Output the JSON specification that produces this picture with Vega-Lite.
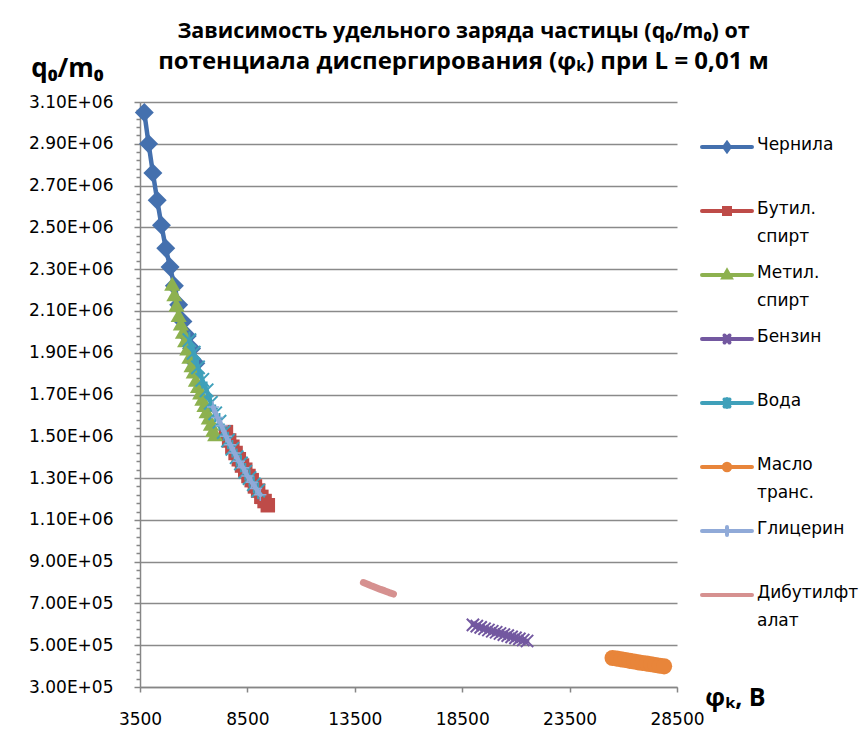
{
  "$schema": "https://vega.github.io/schema/vega-lite/v6.json",
  "width": 537,
  "height": 585,
  "autosize": {"type": "none"},
  "padding": {"left": 140, "top": 102, "right": 182, "bottom": 44},
  "background": "white",
  "config": {"view": {"stroke": null}},
  "title": {
    "text": "Зависимость удельного заряда частицы (q₀/m₀) от",
    "subtitle": "потенциала диспергирования (φₖ) при L = 0,01 м",
    "font": "Open Sans", "fontSize": 21.5, "fontWeight": "bold", "color": "#000000",
    "subtitleFont": "Open Sans", "subtitleFontSize": 24, "subtitleFontWeight": "bold", "subtitleColor": "#000000",
    "subtitlePadding": 8,
    "anchor": "middle", "frame": "group", "dx": 55, "dy": 47, "offset": 28
  },
  "data": {"values": [
    {"s": "Чернила", "x": 3700, "y": 3050000},
    {"s": "Чернила", "x": 3900, "y": 2900000},
    {"s": "Чернила", "x": 4100, "y": 2760000},
    {"s": "Чернила", "x": 4300, "y": 2630000},
    {"s": "Чернила", "x": 4500, "y": 2510000},
    {"s": "Чернила", "x": 4700, "y": 2400000},
    {"s": "Чернила", "x": 4900, "y": 2310000},
    {"s": "Чернила", "x": 5100, "y": 2220000},
    {"s": "Чернила", "x": 5300, "y": 2130000},
    {"s": "Чернила", "x": 5500, "y": 2050000},
    {"s": "Чернила", "x": 5700, "y": 1980000},
    {"s": "Чернила", "x": 5900, "y": 1920000},
    {"s": "Чернила", "x": 6100, "y": 1850000},
    {"s": "Бутил. спирт", "x": 7500, "y": 1520000},
    {"s": "Бутил. спирт", "x": 7650, "y": 1480000},
    {"s": "Бутил. спирт", "x": 7800, "y": 1450000},
    {"s": "Бутил. спирт", "x": 7950, "y": 1420000},
    {"s": "Бутил. спирт", "x": 8100, "y": 1390000},
    {"s": "Бутил. спирт", "x": 8250, "y": 1360000},
    {"s": "Бутил. спирт", "x": 8400, "y": 1340000},
    {"s": "Бутил. спирт", "x": 8550, "y": 1310000},
    {"s": "Бутил. спирт", "x": 8700, "y": 1290000},
    {"s": "Бутил. спирт", "x": 8850, "y": 1260000},
    {"s": "Бутил. спирт", "x": 9000, "y": 1240000},
    {"s": "Бутил. спирт", "x": 9150, "y": 1210000},
    {"s": "Бутил. спирт", "x": 9300, "y": 1190000},
    {"s": "Бутил. спирт", "x": 9450, "y": 1170000},
    {"s": "Метил. спирт", "x": 5000, "y": 2230000},
    {"s": "Метил. спирт", "x": 5100, "y": 2180000},
    {"s": "Метил. спирт", "x": 5200, "y": 2130000},
    {"s": "Метил. спирт", "x": 5300, "y": 2080000},
    {"s": "Метил. спирт", "x": 5400, "y": 2040000},
    {"s": "Метил. спирт", "x": 5500, "y": 2000000},
    {"s": "Метил. спирт", "x": 5600, "y": 1960000},
    {"s": "Метил. спирт", "x": 5700, "y": 1920000},
    {"s": "Метил. спирт", "x": 5800, "y": 1880000},
    {"s": "Метил. спирт", "x": 5900, "y": 1840000},
    {"s": "Метил. спирт", "x": 6000, "y": 1810000},
    {"s": "Метил. спирт", "x": 6100, "y": 1770000},
    {"s": "Метил. спирт", "x": 6200, "y": 1740000},
    {"s": "Метил. спирт", "x": 6300, "y": 1710000},
    {"s": "Метил. спирт", "x": 6400, "y": 1680000},
    {"s": "Метил. спирт", "x": 6500, "y": 1650000},
    {"s": "Метил. спирт", "x": 6600, "y": 1620000},
    {"s": "Метил. спирт", "x": 6700, "y": 1590000},
    {"s": "Метил. спирт", "x": 6800, "y": 1560000},
    {"s": "Метил. спирт", "x": 6900, "y": 1530000},
    {"s": "Метил. спирт", "x": 7000, "y": 1510000},
    {"s": "Бензин", "x": 19000, "y": 597000},
    {"s": "Бензин", "x": 19180, "y": 591000},
    {"s": "Бензин", "x": 19360, "y": 585000},
    {"s": "Бензин", "x": 19540, "y": 579000},
    {"s": "Бензин", "x": 19720, "y": 573000},
    {"s": "Бензин", "x": 19900, "y": 567000},
    {"s": "Бензин", "x": 20080, "y": 562000},
    {"s": "Бензин", "x": 20260, "y": 556000},
    {"s": "Бензин", "x": 20440, "y": 551000},
    {"s": "Бензин", "x": 20620, "y": 546000},
    {"s": "Бензин", "x": 20800, "y": 540000},
    {"s": "Бензин", "x": 20980, "y": 535000},
    {"s": "Бензин", "x": 21160, "y": 530000},
    {"s": "Бензин", "x": 21340, "y": 525000},
    {"s": "Бензин", "x": 21520, "y": 520000},
    {"s": "Вода", "x": 5800, "y": 1960000},
    {"s": "Вода", "x": 6000, "y": 1900000},
    {"s": "Вода", "x": 6200, "y": 1830000},
    {"s": "Вода", "x": 6400, "y": 1770000},
    {"s": "Вода", "x": 6600, "y": 1720000},
    {"s": "Вода", "x": 6800, "y": 1660000},
    {"s": "Вода", "x": 7000, "y": 1610000},
    {"s": "Вода", "x": 7200, "y": 1570000},
    {"s": "Вода", "x": 7400, "y": 1520000},
    {"s": "Вода", "x": 7600, "y": 1480000},
    {"s": "Вода", "x": 7800, "y": 1440000},
    {"s": "Вода", "x": 8000, "y": 1400000},
    {"s": "Вода", "x": 8200, "y": 1370000},
    {"s": "Вода", "x": 8400, "y": 1330000},
    {"s": "Вода", "x": 8600, "y": 1300000},
    {"s": "Вода", "x": 8800, "y": 1270000},
    {"s": "Вода", "x": 9000, "y": 1240000},
    {"s": "Масло транс.", "x": 25500, "y": 439000},
    {"s": "Масло транс.", "x": 25700, "y": 436000},
    {"s": "Масло транс.", "x": 25900, "y": 432000},
    {"s": "Масло транс.", "x": 26100, "y": 429000},
    {"s": "Масло транс.", "x": 26300, "y": 425000},
    {"s": "Масло транс.", "x": 26500, "y": 422000},
    {"s": "Масло транс.", "x": 26700, "y": 418000},
    {"s": "Масло транс.", "x": 26900, "y": 415000},
    {"s": "Масло транс.", "x": 27100, "y": 412000},
    {"s": "Масло транс.", "x": 27300, "y": 409000},
    {"s": "Масло транс.", "x": 27500, "y": 405000},
    {"s": "Масло транс.", "x": 27700, "y": 402000},
    {"s": "Масло транс.", "x": 27900, "y": 399000},
    {"s": "Глицерин", "x": 6900, "y": 1640000},
    {"s": "Глицерин", "x": 7100, "y": 1590000},
    {"s": "Глицерин", "x": 7300, "y": 1550000},
    {"s": "Глицерин", "x": 7500, "y": 1500000},
    {"s": "Глицерин", "x": 7700, "y": 1460000},
    {"s": "Глицерин", "x": 7900, "y": 1420000},
    {"s": "Глицерин", "x": 8100, "y": 1380000},
    {"s": "Глицерин", "x": 8300, "y": 1350000},
    {"s": "Глицерин", "x": 8500, "y": 1310000},
    {"s": "Глицерин", "x": 8700, "y": 1280000},
    {"s": "Глицерин", "x": 8900, "y": 1250000},
    {"s": "Глицерин", "x": 9100, "y": 1220000},
    {"s": "Дибутилфталат", "x": 13900, "y": 800000},
    {"s": "Дибутилфталат", "x": 14100, "y": 792000},
    {"s": "Дибутилфталат", "x": 14300, "y": 783000},
    {"s": "Дибутилфталат", "x": 14500, "y": 775000},
    {"s": "Дибутилфталат", "x": 14700, "y": 767000},
    {"s": "Дибутилфталат", "x": 14900, "y": 760000},
    {"s": "Дибутилфталат", "x": 15100, "y": 752000},
    {"s": "Дибутилфталат", "x": 15300, "y": 745000}
  ]},
  "encoding": {
    "x": {
      "field": "x", "type": "quantitative",
      "scale": {"domain": [3500, 28500], "nice": false, "zero": false},
      "axis": {
        "values": [3500, 8500, 13500, 18500, 23500, 28500],
        "format": "d", "grid": false,
        "domain": true, "domainColor": "#868686", "domainWidth": 1.5,
        "ticks": true, "tickColor": "#868686", "tickSize": 5, "tickWidth": 1.5,
        "labelFont": "DejaVu Sans", "labelFontSize": 17, "labelColor": "#000000", "labelPadding": 19,
        "labelFlush": false,
        "title": "φₖ, В", "titleFont": "Open Sans", "titleFontSize": 25, "titleFontWeight": "bold", "titleColor": "#000000",
        "titleX": 595, "titleY": 10, "titleAlign": "center", "titleBaseline": "middle", "titleAngle": 0
      }
    },
    "y": {
      "field": "y", "type": "quantitative",
      "scale": {"domain": [300000, 3100000], "nice": false, "zero": false},
      "axis": {
        "values": [300000, 340000, 380000, 420000, 460000, 500000, 540000, 580000, 620000, 660000, 700000, 740000, 780000, 820000, 860000, 900000, 940000, 980000, 1020000, 1060000, 1100000, 1140000, 1180000, 1220000, 1260000, 1300000, 1340000, 1380000, 1420000, 1460000, 1500000, 1540000, 1580000, 1620000, 1660000, 1700000, 1740000, 1780000, 1820000, 1860000, 1900000, 1940000, 1980000, 2020000, 2060000, 2100000, 2140000, 2180000, 2220000, 2260000, 2300000, 2340000, 2380000, 2420000, 2460000, 2500000, 2540000, 2580000, 2620000, 2660000, 2700000, 2740000, 2780000, 2820000, 2860000, 2900000, 2940000, 2980000, 3020000, 3060000, 3100000],
        "labelExpr": "round((datum.value - 300000) / 40000) % 5 == 0 ? replace(upper(format(datum.value, '.2e')), '+', '+0') : ''",
        "grid": true, "gridColor": "#8a8a8a", "gridWidth": 1.5,
        "gridOpacity": {"condition": {"test": "round((datum.value - 300000) / 40000) % 5 == 0", "value": 1}, "value": 0},
        "domain": true, "domainColor": "#868686", "domainWidth": 1.5,
        "ticks": true, "tickColor": "#868686", "tickWidth": 1.5,
        "tickSize": {"condition": {"test": "round((datum.value - 300000) / 40000) % 5 == 0", "value": 6}, "value": 4},
        "labelFont": "DejaVu Sans", "labelFontSize": 17, "labelColor": "#000000", "labelPadding": 21,
        "labelFlush": false, "labelOverlap": false,
        "title": "q₀/m₀", "titleFont": "Open Sans", "titleFontSize": 26, "titleFontWeight": "bold", "titleColor": "#000000",
        "titleX": -73, "titleY": -26, "titleAlign": "center", "titleBaseline": "alphabetic", "titleAngle": 0
      }
    },
    "color": {
      "field": "s", "type": "nominal",
      "scale": {
        "domain": ["Чернила", "Бутил. спирт", "Метил. спирт", "Бензин", "Вода", "Масло транс.", "Глицерин", "Дибутилфталат"],
        "range": ["#4470AE", "#BE4B48", "#8DB14F", "#7358A0", "#3FA0BA", "#E8853A", "#90AAD8", "#D69190"]
      },
      "legend": {
        "title": null, "orient": "none", "legendX": 560, "legendY": 18, "padding": 0,
        "symbolSize": 2500, "symbolStrokeWidth": 4,
        "labelFont": "DejaVu Sans", "labelFontSize": 17, "labelColor": "#000000", "labelOffset": 3, "labelLimit": 200,
        "labelBaseline": "top", "rowPadding": 3,
        "labelExpr": "datum.label == 'Дибутилфталат' ? ['Дибутилфт', 'алат'] : (indexof(datum.label, ' ') > 0 ? split(datum.label, ' ') : [datum.label, ''])",
        "encode": {
          "symbols": {"update": {
            "shape": {"signal": "['M-1,0H1M0,-0.15L0.11,0L0,0.15L-0.11,0Z', 'M-1,0H1M-0.12,-0.12H0.12V0.12H-0.12Z', 'M-1,0H1M0,-0.15L0.14,0.1H-0.14Z', 'M-1,0H1M-0.1,-0.14L0.1,0.14M-0.1,0.14L0.1,-0.14', 'M-1,0H1M-0.1,-0.14L0.1,0.14M-0.1,0.14L0.1,-0.14M0,-0.16V0.16', 'M-1,0H1M-0.13,0A0.13,0.13 0 1,0 0.13,0A0.13,0.13 0 1,0 -0.13,0Z', 'M-1,0H1M0,-0.16V0.16', 'M-1,0H1'][indexof(['Чернила','Бутил. спирт','Метил. спирт','Бензин','Вода','Масло транс.','Глицерин','Дибутилфталат'], datum.value)]"},
            "size": {"value": 2500},
            "fill": {"scale": "color", "field": "value"},
            "stroke": {"scale": "color", "field": "value"},
            "strokeWidth": {"value": 4},
            "strokeCap": {"value": "round"},
            "opacity": {"value": 1},
            "fillOpacity": {"value": 1},
            "strokeOpacity": {"value": 1}
          }},
          "labels": {"update": {"dy": {"value": -10}, "lineHeight": {"value": 28}}}
        }
      }
    }
  },
  "layer": [
    {"transform": [{"filter": "datum.s === 'Чернила'"}], "mark": {"type": "line", "strokeWidth": 4.5, "strokeCap": "round", "strokeJoin": "round"}},
    {"transform": [{"filter": "datum.s === 'Чернила'"}], "mark": {"type": "point", "shape": "diamond", "filled": true, "size": 360, "opacity": 1}},
    {"transform": [{"filter": "datum.s === 'Бутил. спирт'"}], "mark": {"type": "line", "strokeWidth": 4.5, "strokeCap": "round", "strokeJoin": "round"}},
    {"transform": [{"filter": "datum.s === 'Бутил. спирт'"}], "mark": {"type": "point", "shape": "square", "filled": true, "size": 210, "opacity": 1}},
    {"transform": [{"filter": "datum.s === 'Метил. спирт'"}], "mark": {"type": "line", "strokeWidth": 4.5, "strokeCap": "round", "strokeJoin": "round"}},
    {"transform": [{"filter": "datum.s === 'Метил. спирт'"}], "mark": {"type": "point", "shape": "triangle-up", "filled": true, "size": 260, "opacity": 1}},
    {"transform": [{"filter": "datum.s === 'Бензин'"}], "mark": {"type": "line", "strokeWidth": 4.5, "strokeCap": "round", "strokeJoin": "round"}},
    {"transform": [{"filter": "datum.s === 'Бензин'"}], "mark": {"type": "point", "shape": "M-1,-1L1,1M-1,1L1,-1", "filled": false, "size": 150, "strokeWidth": 2, "opacity": 1}},
    {"transform": [{"filter": "datum.s === 'Вода'"}], "mark": {"type": "line", "strokeWidth": 4.5, "strokeCap": "round", "strokeJoin": "round"}},
    {"transform": [{"filter": "datum.s === 'Вода'"}], "mark": {"type": "point", "shape": "M-1,-1L1,1M-1,1L1,-1M0,-1.3V1.3", "filled": false, "size": 180, "strokeWidth": 2, "opacity": 1}},
    {"transform": [{"filter": "datum.s === 'Масло транс.'"}], "mark": {"type": "line", "strokeWidth": 4.5, "strokeCap": "round", "strokeJoin": "round"}},
    {"transform": [{"filter": "datum.s === 'Масло транс.'"}], "mark": {"type": "point", "shape": "circle", "filled": true, "size": 260, "opacity": 1}},
    {"transform": [{"filter": "datum.s === 'Глицерин'"}], "mark": {"type": "line", "strokeWidth": 4.5, "strokeCap": "round", "strokeJoin": "round"}},
    {"transform": [{"filter": "datum.s === 'Глицерин'"}], "mark": {"type": "point", "shape": "M-1,0H1M0,-1V1", "filled": false, "size": 150, "strokeWidth": 1.5, "opacity": 1}},
    {"transform": [{"filter": "datum.s === 'Дибутилфталат'"}], "mark": {"type": "line", "strokeWidth": 7, "strokeCap": "round", "strokeJoin": "round"}}
  ]
}
